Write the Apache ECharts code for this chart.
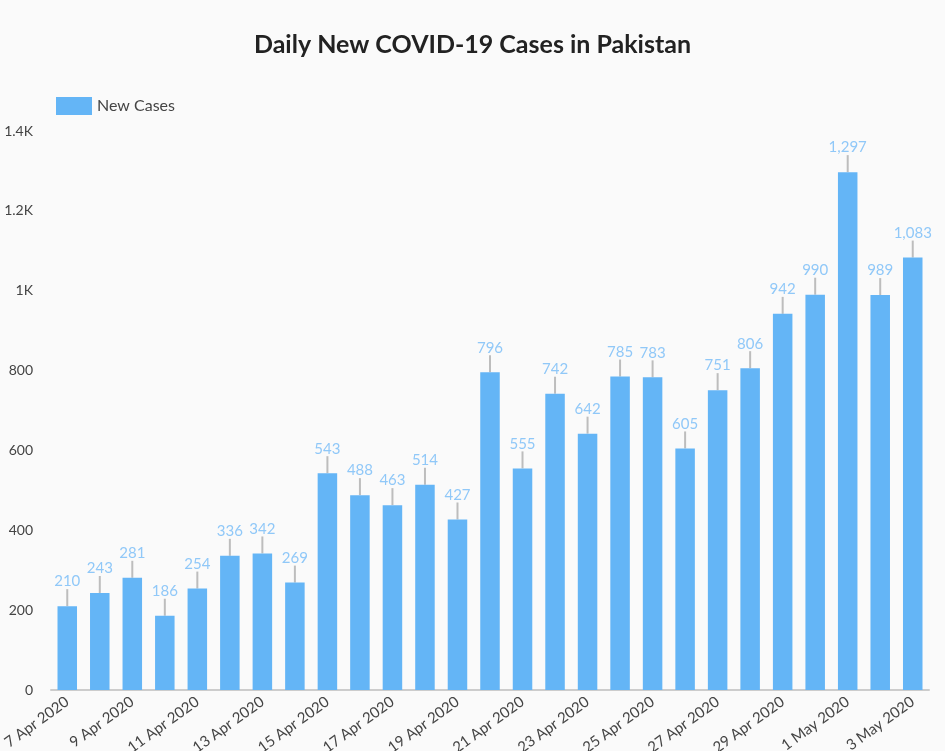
<!DOCTYPE html>
<html>
<head>
<meta charset="utf-8">
<script src="https://cdn.jsdelivr.net/npm/echarts@6/dist/echarts.min.js"></script>
<style>
html,body{margin:0;padding:0;background:#fafafa;}
#chart{width:945px;height:751px;}
</style>
</head>
<body>
<div id="chart"></div>
<script>
const categories = ['7 Apr 2020','8 Apr 2020','9 Apr 2020','10 Apr 2020','11 Apr 2020','12 Apr 2020','13 Apr 2020','14 Apr 2020','15 Apr 2020','16 Apr 2020','17 Apr 2020','18 Apr 2020','19 Apr 2020','20 Apr 2020','21 Apr 2020','22 Apr 2020','23 Apr 2020','24 Apr 2020','25 Apr 2020','26 Apr 2020','27 Apr 2020','28 Apr 2020','29 Apr 2020','30 Apr 2020','1 May 2020','2 May 2020','3 May 2020'];
const newCases = [210,243,281,186,254,336,342,269,543,488,463,514,427,796,555,742,642,785,783,605,751,806,942,990,1297,989,1083];
const yTicks = [0,200,400,600,800,1000,1200,1400];

const FONT = 'Lato, "Noto Sans", sans-serif';
const chart = echarts.init(document.getElementById('chart'));
chart.setOption({
  backgroundColor: '#fafafa',
  animation: false,
  title: {
    text: 'Daily New COVID-19 Cases in Pakistan',
    left: 'center', top: 27,
    textStyle: {fontFamily: FONT, fontSize: 25, fontWeight: 'bold', color: '#222'}
  },
  legend: {
    left: 51, top: 92, icon: 'rect',
    itemWidth: 36, itemHeight: 18, itemGap: 8,
    textStyle: {fontFamily: FONT, fontSize: 16, color: '#444'},
    data: ['New Cases']
  },
  grid: {left: 51, right: 16, top: 131, bottom: 61, containLabel: false, outerBoundsMode: 'none'},
  xAxis: {
    type: 'category',
    data: categories,
    axisTick: {show: false},
    axisLine: {lineStyle: {color: '#ccc', width: 2}},
    axisLabel: {
      interval: 1, rotate: 36, margin: 10,
      fontFamily: FONT, fontSize: 15, color: '#444'
    }
  },
  yAxis: {
    type: 'value', min: 0, max: 1400, interval: 200,
    splitLine: {show: false},
    axisLine: {show: false},
    axisTick: {show: false},
    axisLabel: {
      margin: 18, fontFamily: FONT, fontSize: 14, color: '#444',
      formatter: v => yTicks.includes(v) ? (v >= 1000 ? (v/1000) + 'K' : String(v)) : ''
    }
  },
  series: [{
    name: 'New Cases',
    type: 'bar',
    data: newCases,
    barWidth: '60%',
    itemStyle: {color: '#64b5f6'},
    label: {
      show: true, position: 'top', distance: 17,
      fontFamily: FONT, fontSize: 15, color: '#90c8f8',
      formatter: p => p.value.toLocaleString('en-US')
    },
    labelLine: {show: true, length2: 0, lineStyle: {color: '#bdbdbd', width: 2}},
    labelLayout: {dy: 0}
  }]
});
</script>
</body>
</html>
